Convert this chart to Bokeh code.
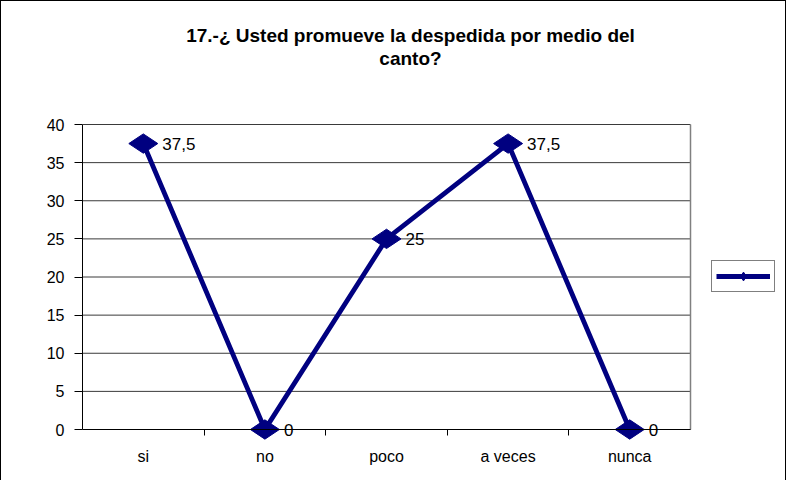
from bokeh.plotting import figure
from bokeh.models import (Range1d, FixedTicker, ColumnDataSource, Legend, LegendItem,
                          LabelSet, Label)
from bokeh.core.properties import value
from bokeh.embed import file_html
from bokeh.resources import INLINE
import math

title_line1 = "17.-¿ Usted promueve la despedida por medio del"
title_line2 = "canto?"
categories = ["si", "no", "poco", "a veces", "nunca"]
values = [37.5, 0, 25, 37.5, 0]
y_ticks = [0, 5, 10, 15, 20, 25, 30, 35, 40]

FONT = "Liberation Sans"
NAVY = "#000080"

n = len(categories)
xs = [i + 0.5 for i in range(n)]
labels = [("%g" % v).replace(".", ",") for v in values]
src = ColumnDataSource(dict(x=xs, y=values, lab=labels))

# layout in pixels
W, H = 786, 480
FL = 81            # left edge of the plotting area
PR = 689           # right edge of the plotting area
PT = 123           # pixel row of the top tick
Y0 = 428           # pixel row of value 0
ppu_y = (Y0 - PT) / (y_ticks[-1] - y_ticks[0])
ppu_x = (PR - FL) / n
# the frame covers the whole figure (right of the y axis) so nothing gets clipped
y_start = -(H - Y0) / ppu_y
y_end = y_ticks[-1] + PT / ppu_y
x_end = (W - FL) / ppu_x

p = figure(width=W, height=H, output_backend="svg", toolbar_location=None,
           title_location=None,
           x_range=Range1d(0, x_end), y_range=Range1d(y_start, y_end),
           min_border_left=FL, min_border_right=0, min_border_top=0, min_border_bottom=0)
p.styles = {"border-left": "1px solid #000000", "border-top": "1px solid #000000",
            "border-right": "1px solid #000000", "box-sizing": "border-box"}

p.background_fill_color = "white"
p.border_fill_color = "white"
p.outline_line_color = None

# x axis fixed at zero
xa = p.xaxis[0]
xa.fixed_location = 0
xa.bounds = (0, n)
xa.ticker = FixedTicker(ticks=xs, minor_ticks=list(range(1, n)))
xa.major_label_overrides = {x: c for x, c in zip(xs, categories)}
xa.major_tick_line_color = None
xa.major_tick_out = 0
xa.major_tick_in = 0
xa.minor_tick_line_color = "#000000"
xa.minor_tick_out = 6
xa.minor_tick_in = 0
xa.axis_line_color = "#000000"
xa.major_label_text_font = FONT
xa.major_label_text_font_size = "16px"
xa.major_label_text_color = "#000000"
xa.major_label_standoff = 12

ya = p.yaxis[0]
ya.ticker = FixedTicker(ticks=y_ticks)
ya.bounds = (y_ticks[0], y_ticks[-1])
ya.major_tick_out = 8
ya.major_tick_in = 0
ya.minor_tick_line_color = None
ya.axis_line_color = "#000000"
ya.major_tick_line_color = "#000000"
ya.major_label_text_font = FONT
ya.major_label_text_font_size = "16px"
ya.major_label_text_color = "#000000"
ya.major_label_standoff = 10

# horizontal grid lines only across the category area, plus grey right edge
p.xgrid.grid_line_color = None
p.ygrid.grid_line_color = None
p.segment(x0=[0] * len(y_ticks), x1=[n] * len(y_ticks), y0=y_ticks, y1=y_ticks,
          line_color="#3a3a3a", line_width=1)
p.segment(x0=[n], x1=[n], y0=[y_ticks[0]], y1=[y_ticks[-1]],
          line_color="#808080", line_width=1.5)

line = p.line("x", "y", source=src, line_color=NAVY, line_width=4.8, line_join="miter")
pts = p.scatter("x", "y", source=src, marker="diamond", size=29, angle=math.pi / 2,
                fill_color=NAVY, line_color=NAVY)

lbl = LabelSet(x="x", y="y", text="lab", source=src, x_offset=19, y_offset=0,
               text_baseline="middle", text_font=value(FONT), text_font_size="17px",
               text_color="#000000")
p.add_layout(lbl)

# title (two centred lines)
for txt, cy in ((title_line1, 34), (title_line2, 57)):
    p.add_layout(Label(x=409 - FL, y=H - cy, x_units="screen", y_units="screen",
                       text=txt, text_align="center", text_baseline="middle",
                       text_font=FONT, text_font_size="19px", text_font_style="bold",
                       text_color="#000000"))

legend = Legend(items=[LegendItem(label=" ", renderers=[line, pts])],
                location=(710 - FL, H - 291), glyph_width=54, glyph_height=22,
                label_width=0, label_standoff=0, label_text_font_size="1px",
                padding=4, spacing=0, margin=0,
                border_line_color="#000000", border_line_width=1,
                background_fill_color="white", background_fill_alpha=1)
p.add_layout(legend, "center")

open("out.html", "w").write(file_html(p, INLINE))
